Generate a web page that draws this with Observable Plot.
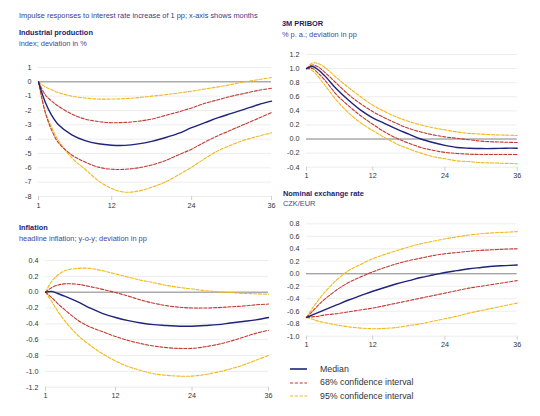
<!DOCTYPE html>
<html>
<head>
<meta charset="utf-8">
<script src="https://cdn.jsdelivr.net/npm/d3@7"></script>
<script src="https://cdn.jsdelivr.net/npm/@observablehq/plot@0.6"></script>
<style>
  html, body { margin: 0; padding: 0; background: #fff; }
  #root { position: relative; width: 540px; height: 416px; font-family: "Liberation Sans", Arial, sans-serif; overflow: hidden; }
  .t { position: absolute; white-space: nowrap; }
  .main { font-size: 7.4px; color: #3a3a8e; }
  .ptitle { font-size: 7.4px; font-weight: bold; color: #1c1c6c; }
  .psub { font-size: 7.4px; color: #45459a; }
  .plot { position: absolute; }
  .leg { position: absolute; font-size: 8.8px; color: #333; }
</style>
</head>
<body>
<div id="root"></div>
<script>
// ---- data ----
const months = [1, 2, 3, 4, 6, 8, 10, 12, 14, 16, 18, 20, 22, 24, 26, 28, 30, 32, 34, 36];
const tickMonths = [1, 12, 24, 36];
const seriesNames = ["95% confidence interval", "68% confidence interval", "Median"];

// Industrial production
const ipMedian  = [0, -1.4, -2.35, -3.0, -3.7, -4.1, -4.32, -4.42, -4.43, -4.33, -4.15, -3.9, -3.6, -3.2, -2.85, -2.5, -2.2, -1.9, -1.6, -1.35];
const ipUp68    = [0, -0.9, -1.35, -1.7, -2.25, -2.6, -2.77, -2.85, -2.83, -2.75, -2.6, -2.35, -2.1, -1.82, -1.5, -1.25, -1.0, -0.8, -0.6, -0.45];
const ipLo68    = [0, -2.1, -3.4, -4.25, -5.1, -5.6, -5.95, -6.1, -6.1, -6.0, -5.8, -5.5, -5.1, -4.7, -4.2, -3.75, -3.35, -2.95, -2.55, -2.15];
const ipUp95    = [0, -0.35, -0.55, -0.75, -1.0, -1.13, -1.2, -1.2, -1.17, -1.1, -1.0, -0.9, -0.78, -0.65, -0.5, -0.35, -0.18, 0.0, 0.15, 0.3];
const ipLo95    = [0, -2.1, -3.2, -4.1, -5.3, -6.1, -6.9, -7.45, -7.7, -7.62, -7.35, -7.0, -6.5, -5.95, -5.35, -4.8, -4.4, -4.05, -3.8, -3.55];
const ipTicks   = [-8, -7, -6, -5, -4, -3, -2, -1, 0, 1];

// 3M PRIBOR
const prMedian  = [1.0, 1.03, 0.98, 0.9, 0.71, 0.55, 0.41, 0.3, 0.22, 0.14, 0.07, 0.0, -0.05, -0.09, -0.12, -0.13, -0.135, -0.135, -0.13, -0.13];
const prUp68    = [1.0, 1.05, 1.02, 0.95, 0.79, 0.63, 0.5, 0.39, 0.3, 0.22, 0.15, 0.1, 0.06, 0.03, 0.01, -0.01, -0.03, -0.04, -0.045, -0.05];
const prLo68    = [1.0, 1.0, 0.93, 0.84, 0.63, 0.47, 0.33, 0.21, 0.1, 0.01, -0.06, -0.12, -0.16, -0.19, -0.205, -0.215, -0.22, -0.22, -0.22, -0.22];
const prUp95    = [1.0, 1.08, 1.07, 1.02, 0.87, 0.73, 0.6, 0.48, 0.39, 0.31, 0.25, 0.2, 0.16, 0.13, 0.1, 0.08, 0.07, 0.06, 0.055, 0.05];
const prLo95    = [1.0, 0.97, 0.88, 0.77, 0.55, 0.37, 0.23, 0.12, 0.02, -0.07, -0.14, -0.2, -0.25, -0.28, -0.31, -0.32, -0.335, -0.34, -0.345, -0.35];
const prTicks   = [-0.4, -0.2, 0, 0.2, 0.4, 0.6, 0.8, 1.0, 1.2];

// Inflation
const inMedian  = [0, 0.01, -0.02, -0.05, -0.12, -0.2, -0.27, -0.32, -0.36, -0.39, -0.41, -0.42, -0.43, -0.43, -0.42, -0.41, -0.39, -0.37, -0.35, -0.32];
const inUp68    = [0, 0.06, 0.09, 0.105, 0.1, 0.07, 0.035, -0.005, -0.05, -0.1, -0.14, -0.17, -0.19, -0.2, -0.2, -0.195, -0.185, -0.175, -0.16, -0.15];
const inLo68    = [0, -0.07, -0.15, -0.22, -0.35, -0.44, -0.5, -0.56, -0.61, -0.65, -0.68, -0.7, -0.71, -0.71, -0.69, -0.66, -0.62, -0.57, -0.52, -0.48];
const inUp95    = [0, 0.14, 0.22, 0.27, 0.3, 0.3, 0.27, 0.23, 0.19, 0.15, 0.12, 0.085, 0.06, 0.04, 0.02, 0.005, -0.005, -0.015, -0.02, -0.025];
const inLo95    = [0, -0.12, -0.25, -0.36, -0.54, -0.67, -0.78, -0.87, -0.94, -0.99, -1.03, -1.05, -1.06, -1.06, -1.04, -1.01, -0.97, -0.92, -0.86, -0.8];
const inTicks   = [-1.2, -1.0, -0.8, -0.6, -0.4, -0.2, 0, 0.2, 0.4];

// Nominal exchange rate
const fxMedian  = [-0.7, -0.66, -0.62, -0.58, -0.5, -0.42, -0.35, -0.28, -0.22, -0.16, -0.11, -0.06, -0.02, 0.02, 0.05, 0.08, 0.1, 0.12, 0.13, 0.14];
const fxUp68    = [-0.7, -0.6, -0.5, -0.41, -0.26, -0.14, -0.05, 0.03, 0.1, 0.16, 0.21, 0.25, 0.29, 0.32, 0.34, 0.36, 0.375, 0.385, 0.395, 0.4];
const fxLo68    = [-0.7, -0.69, -0.68, -0.66, -0.64, -0.61, -0.58, -0.55, -0.51, -0.47, -0.43, -0.39, -0.35, -0.31, -0.27, -0.23, -0.2, -0.17, -0.14, -0.11];
const fxUp95    = [-0.7, -0.55, -0.42, -0.3, -0.1, 0.05, 0.15, 0.24, 0.31, 0.37, 0.43, 0.48, 0.52, 0.56, 0.59, 0.62, 0.64, 0.655, 0.665, 0.675];
const fxLo95    = [-0.7, -0.73, -0.76, -0.78, -0.82, -0.85, -0.87, -0.88, -0.875, -0.86, -0.83, -0.8, -0.76, -0.72, -0.68, -0.63, -0.59, -0.55, -0.51, -0.47];
const fxTicks   = [-1.0, -0.8, -0.6, -0.4, -0.2, 0, 0.2, 0.4, 0.6, 0.8];

// ---- styles ----
const colMedian = "#1f237a";
const col68 = "#c23a30";
const col95 = "#f2b81c";
const dash = "3.2,1.6";
const root = document.getElementById("root");

function addText(cls, text, left, top) {
  const d = document.createElement("div");
  d.className = "t " + cls;
  d.textContent = text;
  d.style.left = left + "px";
  d.style.top = top + "px";
  root.appendChild(d);
}

function fmt1(d) { return (d < 0 ? "-" : "") + Math.abs(d).toFixed(1); }
function fmt0(d) { return (d < 0 ? "-" : "") + Math.abs(d).toFixed(0); }

function panel(opt) {
  const rows = (arr, s) => months.map((m, i) => ({m, v: arr[i], s}));
  const lo95 = rows(opt.lo95, "95"), up95 = rows(opt.up95, "95");
  const lo68 = rows(opt.lo68, "68"), up68 = rows(opt.up68, "68");
  const med = rows(opt.med, "med");
  const curve = "catmull-rom";
  const p = Plot.plot({
    width: opt.width, height: opt.height,
    marginLeft: opt.ml, marginRight: opt.mr, marginTop: opt.mt, marginBottom: opt.mb,
    style: {fontFamily: "Liberation Sans, Arial, sans-serif", fontSize: "7.2px", color: "#333", overflow: "visible", background: "transparent"},
    x: {domain: [1, 36]},
    y: {domain: opt.domain},
    marks: [
      Plot.gridY(opt.ticks, {stroke: "#e9e9e9", strokeOpacity: 1, strokeWidth: 0.8}),
      Plot.ruleY([0], {stroke: "#8a8a8a", strokeWidth: 1}),
      Plot.axisY({ticks: opt.ticks, tickFormat: opt.fmt, tickSize: 0, tickPadding: 7, label: null, fill: "#333"}),
      Plot.axisX({ticks: tickMonths, tickFormat: d => String(d), tickSize: 4, tickPadding: 2, label: null, stroke: "#cfcfcf", fill: "#333"}),
      Plot.line(lo95, {x: "m", y: "v", stroke: col95, strokeWidth: 1.1, strokeDasharray: dash, curve}),
      Plot.line(up95, {x: "m", y: "v", stroke: col95, strokeWidth: 1.1, strokeDasharray: dash, curve}),
      Plot.line(lo68, {x: "m", y: "v", stroke: col68, strokeWidth: 1.1, strokeDasharray: dash, curve}),
      Plot.line(up68, {x: "m", y: "v", stroke: col68, strokeWidth: 1.1, strokeDasharray: dash, curve}),
      Plot.line(med, {x: "m", y: "v", stroke: colMedian, strokeWidth: 1.4, curve})
    ]
  });
  p.classList.add("plot");
  p.style.left = opt.left + "px";
  p.style.top = opt.top + "px";
  root.appendChild(p);
}

addText("main", "Impulse responses to interest rate increase of 1 pp; x-axis shows months", 19, 11);

addText("ptitle", "Industrial production", 19, 28);
addText("psub", "index; deviation in %", 19, 39);
panel({left: 0, top: 57, width: 275, height: 159, ml: 38, mr: 4, mt: 10, mb: 20,
  domain: [-8, 1], ticks: ipTicks, fmt: fmt0,
  med: ipMedian, up68: ipUp68, lo68: ipLo68, up95: ipUp95, lo95: ipLo95});

addText("ptitle", "3M PRIBOR", 282, 19);
addText("psub", "% p. a.; deviation in pp", 282, 30);
panel({left: 270, top: 44, width: 270, height: 143, ml: 36, mr: 23.3, mt: 10, mb: 20.3,
  domain: [-0.4, 1.2], ticks: prTicks, fmt: fmt1,
  med: prMedian, up68: prUp68, lo68: prLo68, up95: prUp95, lo95: prLo95});

addText("ptitle", "Inflation", 19, 223);
addText("psub", "headline inflation; y-o-y; deviation in pp", 19, 234);
panel({left: 0, top: 250, width: 275, height: 157, ml: 45, mr: 7, mt: 10, mb: 20.3,
  domain: [-1.2, 0.4], ticks: inTicks, fmt: fmt1,
  med: inMedian, up68: inUp68, lo68: inLo68, up95: inUp95, lo95: inLo95});

addText("ptitle", "Nominal exchange rate", 283, 189);
addText("psub", "CZK/EUR", 283, 199);
panel({left: 270, top: 213, width: 270, height: 143, ml: 36, mr: 23.3, mt: 10.3, mb: 20.3,
  domain: [-1.0, 0.8], ticks: fxTicks, fmt: fmt1,
  med: fxMedian, up68: fxUp68, lo68: fxLo68, up95: fxUp95, lo95: fxLo95});

// legend
const legendItems = [
  {name: seriesNames[2], color: colMedian, dash: null, w: 1.6},
  {name: seriesNames[1], color: col68, dash: dash, w: 1.1},
  {name: seriesNames[0], color: col95, dash: dash, w: 1.1}
];
legendItems.forEach((it, i) => {
  const y = 369 + i * 13.5;
  const svg = d3.create("svg").attr("width", 20).attr("height", 6)
    .style("position", "absolute").style("left", "289px").style("top", (y - 3) + "px");
  svg.append("line").attr("x1", 1).attr("x2", 18).attr("y1", 3).attr("y2", 3)
    .attr("stroke", it.color).attr("stroke-width", it.w)
    .attr("stroke-dasharray", it.dash);
  root.appendChild(svg.node());
  const d = document.createElement("div");
  d.className = "leg";
  d.textContent = it.name;
  d.style.left = "320px";
  d.style.top = (y - 5.5) + "px";
  root.appendChild(d);
});
</script>
</body>
</html>
